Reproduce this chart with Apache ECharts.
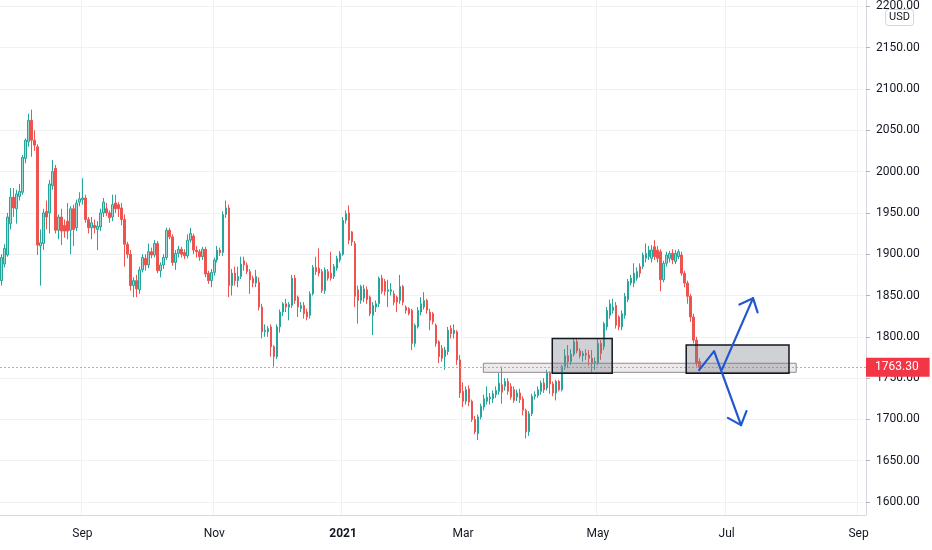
<!DOCTYPE html>
<html>
<head>
<meta charset="utf-8">
<script src="https://cdn.jsdelivr.net/npm/echarts@6/dist/echarts.min.js"></script>
<style>
html,body{margin:0;padding:0;background:#ffffff;}
#chart{width:932px;height:550px;}
</style>
</head>
<body>
<div id="chart"></div>
<script>
// ---- calendar (daily trading sessions, weekends and two holidays closed) ----
const startDate = '2020-07-24';
const closedDays = ['2020-12-25', '2021-01-01'];
const totalSlots = 289;

// ---- time-axis tick labels ----
const tickDates = ['2020-09-01', '2020-11-02', '2021-01-04', '2021-03-01', '2021-05-03', '2021-07-01', '2021-09-01'];
const tickLabels = ['Sep', 'Nov', '2021', 'Mar', 'May', 'Jul', 'Sep'];

// ---- daily OHLC (USD) ----
const opens = [
1868,1888,1899,1937,1969,1955,1970,1975,2016,2036,
2062,2038,2030,1910,1913,1952,1950,1983,2004,1929,
1945,1935,1940,1929,1955,1932,1963,1966,1968,1942,
1932,1935,1930,1933,1950,1955,1950,1945,1962,1960,
1956,1942,1912,1900,1862,1868,1857,1881,1895,1887,
1903,1899,1913,1880,1887,1896,1929,1921,1890,1901,
1906,1902,1898,1917,1922,1905,1903,1897,1906,1877,
1868,1878,1893,1905,1902,1948,1956,1862,1877,1868,
1873,1892,1887,1879,1871,1865,1866,1836,1806,1806,
1812,1788,1776,1812,1830,1840,1836,1838,1871,1848,
1834,1838,1830,1826,1852,1884,1883,1879,1856,1879,
1877,1873,1883,1893,1900,1941,1950,1927,1913,1857,
1844,1847,1857,1848,1826,1836,1840,1871,1867,1855,
1855,1852,1848,1844,1861,1836,1834,1832,1792,1812,
1830,1836,1844,1830,1828,1814,1794,1786,1776,1782,
1810,1804,1806,1772,1734,1722,1737,1722,1700,1683,
1703,1715,1722,1725,1725,1730,1734,1742,1740,1746,
1740,1736,1727,1732,1725,1711,1685,1707,1728,1729,
1734,1744,1738,1756,1743,1732,1746,1736,1764,1777,
1770,1779,1794,1783,1777,1780,1778,1774,1768,1768,
1792,1788,1812,1826,1832,1838,1824,1812,1826,1845,
1865,1865,1871,1885,1885,1895,1897,1895,1909,1905,
1903,1869,1889,1895,1901,1891,1897,1899,1877,1865,
1849,1824,1796,1770
];
const closes = [
1896,1907,1945,1969,1956,1973,1976,2017,2038,2062,
2038,2032,1911,1914,1950,1945,1985,2000,1929,1945,
1928,1928,1928,1955,1930,1962,1967,1968,1942,1932,
1938,1932,1934,1950,1963,1950,1944,1960,1955,1955,
1942,1912,1900,1862,1868,1858,1881,1896,1887,1903,
1899,1913,1880,1887,1896,1929,1921,1890,1901,1906,
1900,1898,1917,1925,1905,1903,1897,1906,1876,1868,
1878,1893,1905,1902,1948,1956,1862,1877,1868,1873,
1888,1887,1879,1869,1865,1873,1836,1806,1808,1810,
1788,1776,1812,1830,1840,1836,1839,1871,1844,1836,
1838,1828,1824,1852,1884,1879,1877,1856,1881,1871,
1871,1885,1895,1901,1941,1949,1917,1915,1849,1844,
1861,1858,1845,1828,1838,1840,1871,1855,1855,1857,
1857,1842,1842,1861,1842,1832,1828,1792,1814,1832,
1840,1844,1832,1820,1818,1792,1776,1774,1784,1808,
1804,1808,1772,1732,1722,1736,1721,1700,1685,1703,
1716,1725,1727,1727,1731,1735,1744,1733,1746,1734,
1727,1723,1732,1724,1711,1685,1707,1728,1730,1736,
1744,1736,1756,1743,1732,1746,1736,1764,1777,1770,
1779,1794,1783,1777,1780,1778,1774,1768,1770,1792,
1780,1816,1832,1840,1836,1814,1812,1828,1849,1867,
1871,1877,1879,1877,1899,1901,1905,1905,1897,1895,
1869,1889,1899,1901,1893,1901,1903,1877,1865,1849,
1824,1796,1768,1763.3
];
const highs = [
1900,1912,1950,1980,1980,1978,1985,2020,2040,2070,
2075,2050,2033,1930,1955,1965,1990,2014,2008,1948,
1955,1942,1962,1958,1960,1966,1975,1992,1972,1945,
1945,1942,1940,1955,1968,1962,1953,1972,1972,1963,
1962,1948,1915,1905,1872,1875,1885,1900,1900,1913,
1908,1917,1916,1890,1900,1932,1932,1924,1905,1910,
1909,1906,1924,1932,1925,1910,1906,1909,1909,1880,
1882,1896,1910,1908,1952,1965,1960,1882,1885,1885,
1897,1897,1890,1882,1874,1881,1872,1840,1815,1813,
1815,1790,1815,1833,1842,1846,1842,1875,1875,1850,
1842,1842,1834,1855,1887,1897,1907,1882,1884,1882,
1903,1888,1898,1904,1945,1953,1959,1928,1916,1862,
1863,1863,1861,1850,1842,1844,1873,1875,1870,1869,
1865,1856,1850,1875,1863,1838,1836,1834,1816,1836,
1848,1854,1846,1834,1830,1816,1796,1790,1788,1812,
1814,1815,1808,1778,1745,1740,1741,1724,1704,1706,
1719,1730,1740,1732,1735,1740,1756,1764,1750,1750,
1744,1740,1736,1737,1728,1713,1710,1731,1734,1740,
1747,1750,1760,1758,1746,1748,1748,1766,1785,1790,
1785,1798,1798,1786,1783,1785,1784,1784,1775,1798,
1796,1818,1836,1845,1846,1842,1826,1832,1853,1870,
1875,1889,1884,1889,1902,1913,1910,1911,1917,1910,
1906,1892,1903,1904,1906,1905,1906,1903,1880,1868,
1852,1828,1800,1774
];
const lows = [
1862,1884,1897,1930,1945,1937,1965,1972,2010,2030,
2018,2025,1899,1862,1905,1930,1925,1978,1925,1918,
1911,1920,1918,1900,1910,1928,1958,1960,1938,1925,
1918,1925,1905,1928,1945,1946,1938,1940,1950,1945,
1935,1885,1895,1856,1848,1848,1852,1878,1880,1883,
1895,1896,1877,1872,1882,1893,1918,1886,1881,1896,
1896,1894,1895,1914,1900,1896,1892,1893,1872,1864,
1860,1874,1890,1898,1898,1944,1848,1850,1862,1860,
1870,1880,1876,1852,1860,1860,1832,1798,1800,1800,
1776,1764,1773,1805,1825,1830,1820,1835,1840,1824,
1830,1822,1820,1822,1850,1875,1873,1853,1852,1868,
1868,1870,1880,1890,1898,1937,1912,1910,1836,1816,
1840,1842,1840,1825,1802,1830,1836,1852,1850,1836,
1850,1838,1830,1840,1838,1828,1826,1784,1788,1810,
1826,1833,1828,1808,1815,1788,1768,1770,1760,1778,
1798,1798,1766,1726,1715,1718,1716,1697,1682,1675,
1700,1711,1718,1718,1720,1726,1730,1719,1735,1730,
1724,1720,1722,1720,1705,1677,1680,1704,1724,1726,
1730,1732,1735,1731,1728,1723,1734,1734,1760,1762,
1766,1776,1780,1774,1770,1772,1765,1756,1760,1766,
1772,1784,1808,1822,1828,1810,1808,1808,1822,1842,
1862,1860,1868,1872,1882,1890,1893,1890,1893,1890,
1855,1866,1885,1890,1888,1888,1894,1874,1860,1840,
1818,1792,1764,1760
];
const lastPrice = 1763.30;

// ---- drawn annotations, in [bar index, price] terms ----
// zones: [startBar, endBar, topPrice, bottomPrice]
const zones = [
  [160.8, 265.2, 1768, 1757],
  [183.8, 203.8, 1798, 1756],
  [228.5, 262.8, 1790, 1756]
];
// arrow paths: list of [bar, price] points, arrowhead at the last point
const arrowPaths = [
  [[232.8, 1759.7], [237.8, 1782.7], [246.8, 1693.1]],
  [[240.5, 1760.9], [250.8, 1846.8]]
];

// ---- build categories ----
const categories = [];
(function () {
  const d = new Date(startDate + 'T00:00:00Z');
  while (categories.length < totalSlots) {
    const wd = d.getUTCDay();
    const s = d.toISOString().slice(0, 10);
    if (wd !== 0 && wd !== 6 && closedDays.indexOf(s) < 0) categories.push(s);
    d.setUTCDate(d.getUTCDate() + 1);
  }
})();

const candleData = opens.map((o, i) => [o, closes[i], lows[i], highs[i]]);

const isTick = (idx, val) => tickDates.indexOf(val) >= 0;

function pt(api, i, v) {
  const i0 = Math.floor(i);
  const c = api.coord([i0, v]);
  const w = api.size([1, 0])[0];
  return [c[0] + (i - i0) * w, c[1]];
}

const UP = '#26a69a', DOWN = '#ef5350', BLUE = '#2157d0', PRICE_RED = '#f23645';
const GRID = '#eff1f4', TXT = '#131722';

const chart = echarts.init(document.getElementById('chart'), null, { renderer: 'canvas' });
chart.setOption({
  animation: false,
  backgroundColor: '#ffffff',
  title: {
    text: 'USD',
    right: 18, top: 9,
    padding: [3, 4, 3, 4],
    backgroundColor: '#ffffff',
    borderColor: '#d1d4dc', borderWidth: 1, borderRadius: 3,
    textStyle: { fontFamily: 'Roboto', fontSize: 11, fontWeight: 'normal', color: TXT }
  },
  grid: { left: 0, right: 66, top: 0, bottom: 35, containLabel: false },
  xAxis: {
    type: 'category',
    data: categories,
    boundaryGap: true,
    axisLine: { show: true, lineStyle: { color: '#d6d9e0', width: 1 } },
    axisTick: { show: false },
    splitLine: { show: true, interval: isTick, lineStyle: { color: GRID, width: 1 } },
    axisLabel: {
      interval: isTick,
      margin: 13,
      fontFamily: 'Roboto', fontSize: 12, color: TXT,
      formatter: function (val) {
        const k = tickDates.indexOf(val);
        if (k < 0) return '';
        const t = tickLabels[k];
        return /^\d{4}$/.test(t) ? '{y|' + t + '}' : t;
      },
      rich: { y: { fontFamily: 'Roboto', fontSize: 12, fontWeight: 'bold', color: TXT } }
    }
  },
  yAxis: {
    type: 'value',
    position: 'right',
    min: 1584.3,
    max: 2207.7,
    minInterval: 50,
    maxInterval: 50,
    scale: true,
    axisLine: { show: true, lineStyle: { color: '#d6d9e0', width: 1 } },
    axisTick: { show: true, length: 4, lineStyle: { color: '#b2b5be' } },
    splitLine: { show: true, showMinLine: false, showMaxLine: false, lineStyle: { color: GRID, width: 1 } },
    axisLabel: {
      showMinLabel: false, showMaxLabel: false,
      margin: 10,
      fontFamily: 'Roboto', fontSize: 12, color: TXT,
      formatter: v => v.toFixed(2)
    }
  },
  series: [
    {
      type: 'candlestick',
      data: candleData,
      barWidth: 2,
      z: 2,
      itemStyle: {
        color: 'rgba(38,166,154,0.45)', color0: DOWN,
        borderColor: UP, borderColor0: DOWN, borderWidth: 1
      },
      markLine: {
        silent: true,
        symbol: ['none', 'none'],
        animation: false,
        lineStyle: { color: 'rgba(0,0,0,0)', width: 1 },
        label: {
          show: true, position: 'end', distance: 0,
          formatter: () => lastPrice.toFixed(2),
          backgroundColor: PRICE_RED, color: '#ffffff',
          fontFamily: 'Roboto', fontSize: 12,
          padding: [4, 11, 3, 9]
        },
        data: [{ yAxis: lastPrice }]
      }
    },
    {
      // last-price dotted line across the whole plot
      type: 'custom',
      z: 3,
      silent: true,
      data: [[0, lastPrice]],
      renderItem: function (params, api) {
        const a = pt(api, -0.5, lastPrice);
        const b = pt(api, totalSlots - 0.5, lastPrice);
        const y = Math.round(a[1]) + 0.5;
        return {
          type: 'line',
          shape: { x1: a[0], y1: y, x2: b[0], y2: y },
          style: { stroke: '#f4919a', lineWidth: 1, lineDash: [2, 2] }
        };
      }
    },
    {
      type: 'custom',
      z: 5,
      silent: true,
      data: zones.map(z => [z[0], z[2], z[1], z[3]]),
      renderItem: function (params, api) {
        const z = zones[params.dataIndex];
        const a = pt(api, z[0], z[2]);
        const b = pt(api, z[1], z[3]);
        const thin = params.dataIndex === 0;
        return {
          type: 'rect',
          shape: { x: a[0], y: a[1], width: b[0] - a[0], height: b[1] - a[1] },
          style: thin
            ? { fill: 'rgba(170,150,160,0.2)', stroke: '#8c8c90', lineWidth: 1 }
            : { fill: 'rgba(120,123,134,0.35)', stroke: '#131722', lineWidth: 1.5 }
        };
      }
    },
    {
      type: 'custom',
      z: 6,
      silent: true,
      data: arrowPaths.map(p => [p[0][0], p[0][1]]),
      renderItem: function (params, api) {
        const pts = arrowPaths[params.dataIndex].map(p => pt(api, p[0], p[1]));
        const n = pts.length;
        const a = pts[n - 2], b = pts[n - 1];
        const ang = Math.atan2(b[1] - a[1], b[0] - a[0]);
        const L = 15, sp = 0.72;
        const h1 = [b[0] - L * Math.cos(ang - sp), b[1] - L * Math.sin(ang - sp)];
        const h2 = [b[0] - L * Math.cos(ang + sp), b[1] - L * Math.sin(ang + sp)];
        const st = { stroke: BLUE, lineWidth: 2.2, fill: null, lineJoin: 'round', lineCap: 'round' };
        return {
          type: 'group',
          children: [
            { type: 'polyline', shape: { points: pts }, style: st },
            { type: 'polyline', shape: { points: [h1, b, h2] }, style: st }
          ]
        };
      }
    }
  ]
});
</script>
</body>
</html>
